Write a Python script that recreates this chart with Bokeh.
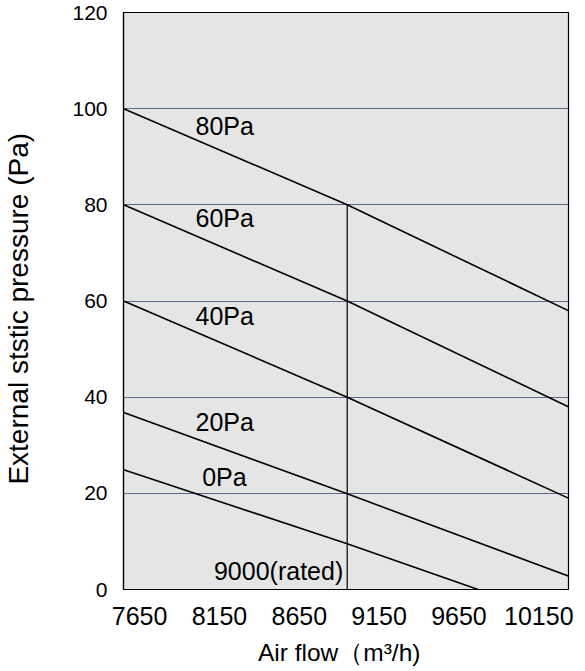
from bokeh.plotting import figure
from bokeh.models import Range1d, FixedTicker, ColumnDataSource
from bokeh.core.properties import value
from bokeh.embed import file_html
from bokeh.resources import INLINE

# ---- data ----
flow_points = [7550, 8950, 10335]          # m3/h: left edge, rated line, right edge
curve_80 = [100, 80, 58]
curve_60 = [80, 60, 38]
curve_40 = [60, 40, 19]
curve_20 = [36.8, 19.9, 2.8]
flow_0 = [7550, 8950, 9770]
curve_0 = [24.9, 9.5, 0]
rated_flow = 8950
rated_top = 80

label_text = ["80Pa", "60Pa", "40Pa", "20Pa", "0Pa"]
label_x = [8000, 8000, 8000, 8000, 8042]
label_y = [96.3, 77.3, 56.8, 34.9, 23.3]
rated_label_x = 8925
rated_label_y = 3.8

x_ticks = [7650, 8150, 8650, 9150, 9650, 10150]
y_ticks = [0, 20, 40, 60, 80, 100, 120]

FONT = "Liberation Sans"
NBSP = "\u00a0"

p = figure(width=577, height=671, output_backend="svg", toolbar_location=None,
           x_range=Range1d(7549, 10336), y_range=Range1d(0, 120),
           min_border_left=123, min_border_right=9, min_border_top=12, min_border_bottom=82)

p.background_fill_color = "#e5e5e5"
p.border_fill_color = "white"
p.outline_line_color = "black"
p.outline_line_width = 1.2

p.xgrid.visible = False
p.ygrid.grid_line_color = "#5a6a88"
p.ygrid.grid_line_width = 1.2
p.xaxis.ticker = FixedTicker(ticks=x_ticks)
p.yaxis.ticker = FixedTicker(ticks=y_ticks)

for ax in (p.xaxis[0], p.yaxis[0]):
    ax.axis_line_color = "black"
    ax.axis_line_width = 1.2
    ax.major_tick_line_color = None
    ax.minor_tick_line_color = None
    ax.major_tick_in = 0
    ax.major_tick_out = 0
    ax.major_label_text_font = FONT
    ax.axis_label_text_font = FONT
    ax.axis_label_text_font_style = "normal"
    ax.axis_label_text_color = "black"
    ax.major_label_text_color = "black"

p.xaxis.major_label_text_font_size = "25px"
p.yaxis.major_label_text_font_size = "21px"
p.xaxis.major_label_standoff = 17
p.yaxis.major_label_standoff = 16
p.xaxis.axis_label = "Air flow（m³/h)" + NBSP * 2
p.yaxis.axis_label = "External ststic pressure (Pa)" + NBSP * 2
p.xaxis.axis_label_text_font_size = "24.5px"
p.yaxis.axis_label_text_font_size = "28px"
p.xaxis.axis_label_standoff = 11
p.yaxis.axis_label_standoff = 35

for ys in (curve_80, curve_60, curve_40, curve_20):
    p.line(flow_points, ys, line_color="black", line_width=1.6)
p.line(flow_0, curve_0, line_color="black", line_width=1.6)
p.segment(x0=[rated_flow], y0=[0], x1=[rated_flow], y1=[rated_top], line_color="black", line_width=1.2)

src = ColumnDataSource(dict(x=label_x, y=label_y, t=label_text))
p.text(x="x", y="y", text="t", source=src, text_font=value(FONT), text_font_size="25px",
       text_align="left", text_baseline="middle", text_color="black")
p.text(x=[rated_label_x], y=[rated_label_y], text=["9000(rated)"], text_font=value(FONT),
       text_font_size="25px", text_align="right", text_baseline="middle", text_color="black")

open("out.html", "w").write(file_html(p, INLINE))
